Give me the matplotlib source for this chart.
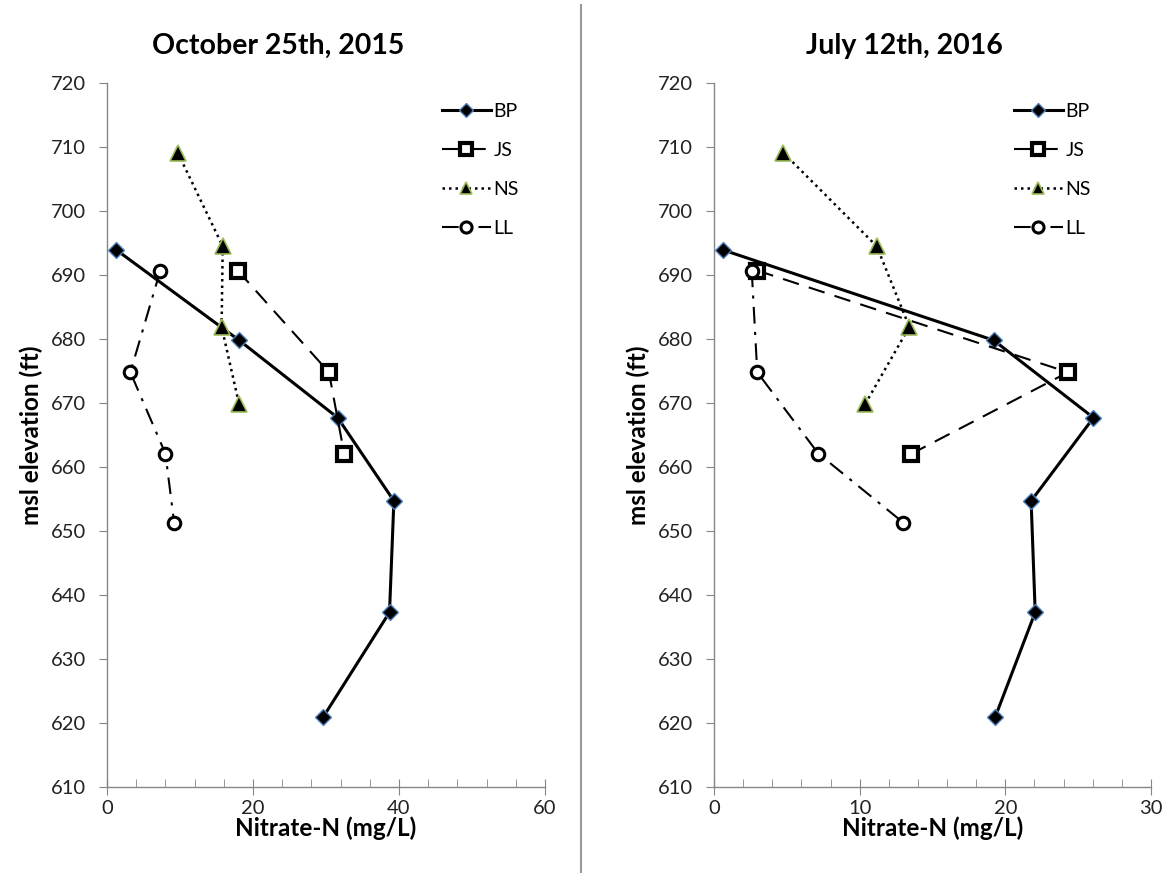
import matplotlib
matplotlib.use("Agg")
import matplotlib.pyplot as plt
from matplotlib.ticker import MultipleLocator
from matplotlib.lines import Line2D

plt.rcParams['font.family'] = ['Lato', 'DejaVu Sans']

# ---- data ----
series = ["BP", "JS", "NS", "LL"]
elev_bp = [693.9, 679.8, 667.7, 654.7, 637.3, 620.9]
elev_js = [690.7, 674.8, 662.0]
elev_ns = [709.1, 694.5, 681.9, 669.8]
elev_ll = [690.7, 674.8, 662.1, 651.3]

oct_bp = [1.3, 18.1, 31.6, 39.3, 38.7, 29.6]
oct_js = [17.9, 30.4, 32.5]
oct_ns = [9.7, 15.85, 15.7, 18.1]
oct_ll = [7.3, 3.2, 8.0, 9.2]

jul_bp = [0.64, 19.2, 26.05, 21.77, 22.05, 19.3]
jul_js = [2.97, 24.3, 13.5]
jul_ns = [4.76, 11.17, 13.41, 10.37]
jul_ll = [2.59, 2.97, 7.16, 13.0]

titles = ["October 25th, 2015", "July 12th, 2016"]
xlabel = "Nitrate-N (mg/L)"
ylabel = "msl elevation (ft)"

W, H = 1170, 873
fig = plt.figure(figsize=(W / 100, H / 100), dpi=100)

GRAY = "#868686"
BLUE = "#4F81BD"
GREEN = "#9BBB59"

styles = {
    "BP": dict(color="black", lw=2.2, ls="-", marker="D", ms=8, mfc="black", mec=BLUE, mew=1.0),
    "JS": dict(color="black", lw=1.5, ls=(0, (8, 5)), marker="s", ms=10.5, mfc="white", mec="black", mew=3.0),
    "NS": dict(color="black", lw=1.8, ls=(0, (1, 1.6)), marker="^", ms=11, mfc="black", mec=GREEN, mew=1.2),
    "LL": dict(color="black", lw=1.5, ls=(0, (8, 4, 1.5, 4)), marker="o", ms=9, mfc="white", mec="black", mew=2.2),
}
leg_ms = {"BP": 7, "JS": 9, "NS": 9, "LL": 8}


def px_axes(l, r, t, b):
    return [l / W, 1 - b / H, (r - l) / W, (b - t) / H]


panels = [
    dict(rect=px_axes(107, 545, 83, 787), xmax=60, xmaj=20, xmin=4,
         data=[(oct_bp, elev_bp), (oct_js, elev_js), (oct_ns, elev_ns), (oct_ll, elev_ll)],
         title_x=278, leg_x=442),
    dict(rect=px_axes(714, 1151, 83, 787), xmax=30, xmaj=10, xmin=2,
         data=[(jul_bp, elev_bp), (jul_js, elev_js), (jul_ns, elev_ns), (jul_ll, elev_ll)],
         title_x=904, leg_x=1014),
]

for p, title in zip(panels, titles):
    ax = fig.add_axes(p["rect"])
    for name, (xv, yv) in zip(series, p["data"]):
        ax.plot(xv, yv, label=name, **styles[name], clip_on=False, zorder=3)
    ax.set_xlim(0, p["xmax"])
    ax.set_ylim(610, 720)
    ax.xaxis.set_major_locator(MultipleLocator(p["xmaj"]))
    ax.xaxis.set_minor_locator(MultipleLocator(p["xmin"]))
    ax.yaxis.set_major_locator(MultipleLocator(10))
    for s in ["top", "right"]:
        ax.spines[s].set_visible(False)
    for s in ["left", "bottom"]:
        ax.spines[s].set_color(GRAY)
        ax.spines[s].set_linewidth(1.0)
    ax.tick_params(axis="x", which="major", direction="inout", length=12, color=GRAY,
                   labelsize=14.5, pad=3, labelcolor="#222222")
    ax.tick_params(axis="x", which="minor", direction="in", length=6, color=GRAY)
    ax.tick_params(axis="y", which="major", direction="out", length=6, color=GRAY,
                   labelsize=14.5, pad=9, labelcolor="#222222")
    ax.set_xlabel(xlabel, fontsize=17.5, fontweight="bold", labelpad=0)
    ax.set_ylabel(ylabel, fontsize=17.5, fontweight="bold", labelpad=6)
    fig.text(p["title_x"] / W, 1 - 46 / H, title, ha="center", va="center",
             fontsize=20.5, fontweight="bold")
    handles = [Line2D([], [], **{**styles[n], "ms": leg_ms[n]}) for n in series]
    ax.legend(handles, series, loc="upper left",
              bbox_to_anchor=(p["leg_x"] / W, 1 - 103 / H),
              bbox_transform=fig.transFigure, frameon=False, fontsize=14,
              handlelength=2.5, labelspacing=1.13, handletextpad=0.15,
              borderpad=0, borderaxespad=0)

# vertical divider
fig.add_artist(Line2D([581 / W, 581 / W], [0, 1 - 5 / H], transform=fig.transFigure,
                      color="#9a9a9a", lw=1.5))

fig.savefig("out.png", dpi=100)
